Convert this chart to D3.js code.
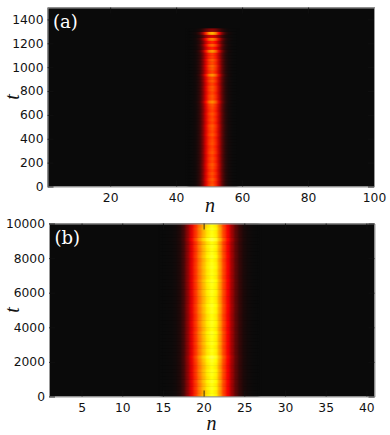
<!DOCTYPE html>
<html>
<head>
<meta charset="utf-8">
<script src="https://cdn.jsdelivr.net/npm/d3@7"></script>
<style>
  html, body { margin: 0; padding: 0; background: #fff; }
  svg { display: block; }
  .tick text { font-family: "DejaVu Sans", sans-serif; font-size: 12.3px; fill: #111; }
</style>
</head>
<body>
<div id="chart"></div>
<script>
// panel (a): lattice sites, intensity across the sites, and brightness of each time row
const sitesA = [44, 45, 46, 47, 48, 49, 50, 51, 52, 53, 54, 55, 56, 57, 58];
const profileA = [0, 0.004, 0.015, 0.05, 0.15, 0.31, 0.44, 0.48, 0.42, 0.27, 0.12, 0.045, 0.015, 0.004, 0];
const rowStepA = 25;
const rowsA = [
  1.03, 1.00, 1.04, 0.98, 1.02, 0.97, 1.01, 1.04, 0.98, 1.01, 0.97, 1.03, 1.00, 0.97,
  1.02, 1.00, 0.97, 1.04, 0.99, 1.02, 1.05, 0.97, 1.01, 0.98, 1.03, 0.97, 1.00, 1.03,
  1.20, 1.02, 1.04, 0.98, 1.03, 1.04, 0.97, 1.05, 1.00, 1.22, 0.98, 1.04, 1.08, 1.00,
  1.05, 0.96, 0.95, 1.24, 0.88, 1.08, 0.88, 1.16, 0.66, 1.34, 0.40
];

// panel (b): half-site profile and time rows
const sitesB = [15, 15.5, 16, 16.5, 17, 17.5, 18, 18.5, 19, 19.5, 20, 20.5, 21, 21.5, 22, 22.5, 23, 23.5, 24, 24.5, 25, 25.5, 26, 26.5];
const profileB = [0, 0.002, 0.005, 0.012, 0.03, 0.08, 0.19, 0.32, 0.44, 0.55, 0.64, 0.72, 0.77, 0.73, 0.60, 0.46, 0.35, 0.22, 0.12, 0.06, 0.025, 0.01, 0.003, 0];
const rowStepB = 200;
const rowsB = [
  1.00, 0.98, 1.01, 0.99, 1.02, 0.98, 1.00, 1.01, 0.98, 1.00, 1.02, 1.06, 0.99, 1.00,
  0.98, 1.01, 0.99, 1.00, 1.02, 0.98, 1.00, 1.01, 0.99, 0.98, 1.01, 1.00, 1.02, 0.99,
  0.98, 1.00, 1.01, 0.99, 1.00, 1.02, 0.98, 1.00, 0.99, 1.01, 1.00, 0.98, 1.02, 1.00,
  0.99, 1.01, 0.98, 1.07, 1.00, 0.99, 1.01, 0.98
];

const nTicksA = [20, 40, 60, 80, 100];
const tTicksA = [0, 200, 400, 600, 800, 1000, 1200, 1400];
const nTicksB = [5, 10, 15, 20, 25, 30, 35, 40];
const tTicksB = [0, 2000, 4000, 6000, 8000, 10000];

const color = d3.scaleLinear()
  .domain([0, 0.365, 0.746, 1])
  .range(['#0a0a0a', '#ff0000', '#ffff00', '#ffffff'])
  .clamp(true);

const svg = d3.select('#chart').append('svg')
  .attr('width', 390)
  .attr('height', 435);

svg.append('defs').append('filter')
  .attr('id', 'soft')
  .attr('x', '-5%').attr('width', '110%')
  .attr('color-interpolation-filters', 'sRGB')
  .append('feGaussianBlur')
  .attr('stdDeviation', '1 0.35');

function drawPanel(p) {
  const x = d3.scaleLinear().domain(p.nDomain).range([p.left, p.right]);
  const y = d3.scaleLinear().domain(p.tDomain).range([p.bottom, p.top]);

  svg.append('clipPath').attr('id', 'clip' + p.name)
    .append('rect')
    .attr('x', p.left).attr('y', p.top)
    .attr('width', p.right - p.left).attr('height', p.bottom - p.top);

  svg.append('rect')
    .attr('x', p.left).attr('y', p.top)
    .attr('width', p.right - p.left).attr('height', p.bottom - p.top)
    .attr('fill', color(0));

  const cells = svg.append('g').attr('clip-path', `url(#clip${p.name})`)
    .append('g').attr('filter', 'url(#soft)');

  const half = (p.sites[1] - p.sites[0]) / 2;
  p.rows.forEach((gain, r) => {
    const t0 = r * p.rowStep;
    cells.selectAll(null)
      .data(p.sites)
      .enter()
      .append('rect')
      .attr('x', d => x(d - half))
      .attr('width', d => x(d + half) - x(d - half) + 0.5)
      .attr('y', y(t0 + p.rowStep))
      .attr('height', y(t0) - y(t0 + p.rowStep) + 0.5)
      .attr('fill', (d, i) => color(p.profile[i] * gain));
  });

  const tick = 6;
  const styleAxis = g => {
    g.selectAll('.domain').attr('stroke', '#999').attr('stroke-width', 1);
    g.selectAll('.tick line').attr('stroke', '#111').attr('stroke-width', 0.8);
  };

  svg.append('g').attr('transform', `translate(0,${p.bottom})`)
    .call(d3.axisBottom(x).tickValues(p.nTicks).tickSize(-tick).tickSizeOuter(0).tickPadding(7))
    .call(styleAxis);
  svg.append('g').attr('transform', `translate(0,${p.top})`)
    .call(d3.axisTop(x).tickValues(p.nTicks).tickSize(-tick).tickSizeOuter(0).tickFormat(''))
    .call(styleAxis);
  svg.append('g').attr('transform', `translate(${p.left},0)`)
    .call(d3.axisLeft(y).tickValues(p.tTicks).tickSize(-tick).tickSizeOuter(0).tickPadding(4).tickFormat(d3.format('d')))
    .call(styleAxis);
  svg.append('g').attr('transform', `translate(${p.right},0)`)
    .call(d3.axisRight(y).tickValues(p.tTicks).tickSize(-tick).tickSizeOuter(0).tickFormat(''))
    .call(styleAxis);

  // panel letter
  svg.append('text')
    .attr('x', p.left + 5.5).attr('y', p.top + 20.5)
    .attr('font-family', '"DejaVu Serif", serif')
    .attr('font-size', 18)
    .attr('fill', '#fff')
    .text(p.letter);

  // axis names
  svg.append('text')
    .attr('x', p.nLabelX).attr('y', p.nLabelY)
    .attr('text-anchor', 'middle')
    .attr('font-family', '"Liberation Serif", serif')
    .attr('font-style', 'italic')
    .attr('font-size', 20)
    .attr('fill', '#111')
    .text('n');

  svg.append('text')
    .attr('transform', `translate(19,${p.tLabelY}) rotate(-90)`)
    .attr('text-anchor', 'middle')
    .attr('font-family', '"Liberation Serif", serif')
    .attr('font-style', 'italic')
    .attr('font-size', 20)
    .attr('fill', '#111')
    .text('t');
}

drawPanel({
  name: 'a', letter: '(a)',
  left: 47.5, right: 374, top: 7.5, bottom: 186.5,
  nDomain: [1, 100], tDomain: [0, 1500],
  sites: sitesA, profile: profileA, rows: rowsA, rowStep: rowStepA,
  nTicks: nTicksA, tTicks: tTicksA,
  nLabelX: 210, nLabelY: 212, tLabelY: 97
});

drawPanel({
  name: 'b', letter: '(b)',
  left: 49, right: 374.5, top: 223.5, bottom: 396.5,
  nDomain: [1, 41], tDomain: [0, 10000],
  sites: sitesB, profile: profileB, rows: rowsB, rowStep: rowStepB,
  nTicks: nTicksB, tTicks: tTicksB,
  nLabelX: 211.5, nLabelY: 430, tLabelY: 310
});
</script>
</body>
</html>
